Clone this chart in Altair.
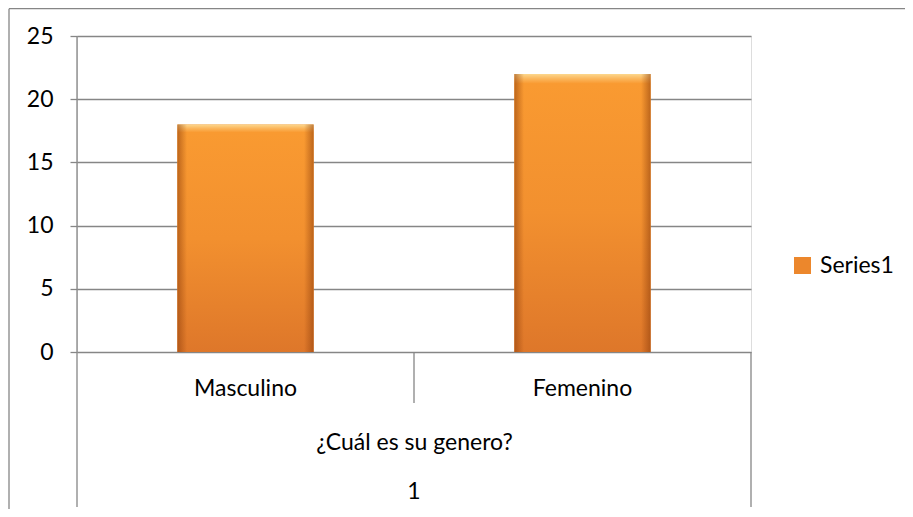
import altair as alt
import pandas as pd

categories = ["Masculino", "Femenino"]
values = [18, 22]
series_name = "Series1"
group_label = "¿Cuál es su genero?"
outer_label = "1"
y_ticks = [0, 5, 10, 15, 20, 25]

df = pd.DataFrame({"genero": categories, "valor": values, "serie": [series_name] * len(categories)})
one = pd.DataFrame({"k": [0]})

FONT = "Lato"
GRAY = "#868686"
W, H = 674, 316
PAD_L, PAD_T = 69, 28
TOTAL_W, TOTAL_H = 897, 501
FS = 23

x_scale = alt.Scale(domain=categories, paddingInner=0, paddingOuter=0)
y_scale = alt.Scale(domain=[0, 25], nice=False)

x_axis = alt.Axis(
    title=group_label, labelAngle=0, ticks=False, domain=False, grid=False,
    labelFont=FONT, labelFontSize=FS, labelColor="#000000", labelPadding=25,
    titleFont=FONT, titleFontSize=FS, titleFontWeight="normal", titleColor="#000000",
    titlePadding=31,
)
y_axis = alt.Axis(
    title=None, values=y_ticks, domain=False, ticks=True, tickSize=7, tickColor=GRAY,
    tickWidth=1.3, grid=True, gridColor=GRAY, gridWidth=1.3, gridOpacity=1,
    labelFont=FONT, labelFontSize=FS, labelColor="#000000", labelPadding=17,
)

bar_w = alt.RelativeBandSize(0.404)

legend_bars = alt.Chart(df).mark_bar(width=bar_w).encode(
    x=alt.X("genero:N", scale=x_scale, sort=categories, axis=x_axis),
    y=alt.Y("valor:Q", scale=y_scale, axis=y_axis),
    color=alt.Color(
        "serie:N", scale=alt.Scale(range=["#EC872C"]),
        legend=alt.Legend(
            title=None, orient="none", legendX=714, legendY=218,
            symbolType="square", symbolSize=289, symbolStrokeWidth=0,
            labelFont=FONT, labelFontSize=FS, labelColor="#000000", labelOffset=6,
        ),
    ),
)

vert = alt.LinearGradient(
    gradient="linear", x1=0, x2=0, y1=0, y2=1,
    stops=[
        alt.GradientStop(color="#FCD88E", offset=0),
        alt.GradientStop(color="#FBB55A", offset=0.018),
        alt.GradientStop(color="#F99A31", offset=0.035),
        alt.GradientStop(color="#F2902F", offset=0.5),
        alt.GradientStop(color="#DE772A", offset=1),
    ],
)
grad_bars = alt.Chart(df).mark_bar(width=bar_w, fill=vert).encode(
    x=alt.X("genero:N", scale=x_scale, sort=categories),
    y=alt.Y("valor:Q", scale=y_scale),
)

horiz = alt.LinearGradient(
    gradient="linear", x1=0, x2=1, y1=0, y2=0,
    stops=[
        alt.GradientStop(color="rgba(140,60,10,0.55)", offset=0),
        alt.GradientStop(color="rgba(140,60,10,0.0)", offset=0.07),
        alt.GradientStop(color="rgba(140,60,10,0.0)", offset=0.93),
        alt.GradientStop(color="rgba(140,60,10,0.55)", offset=1),
    ],
)
edge_bars = alt.Chart(df).mark_bar(width=bar_w, fill=horiz).encode(
    x=alt.X("genero:N", scale=x_scale, sort=categories),
    y=alt.Y("valor:Q", scale=y_scale),
)

rule_style = dict(color=GRAY, strokeWidth=1.3)

left_rule = alt.Chart(one).mark_rule(**rule_style).encode(
    x=alt.XDatum(categories[0], type="nominal", bandPosition=0),
    y=alt.value(0), y2=alt.value(H + 155),
)
mid_rule = alt.Chart(one).mark_rule(**rule_style).encode(
    x=alt.XDatum(categories[1], type="nominal", bandPosition=0),
    y=alt.value(H), y2=alt.value(H + 51),
)
right_rule = alt.Chart(one).mark_rule(**rule_style).encode(
    x=alt.XDatum(categories[1], type="nominal", bandPosition=1),
    y=alt.value(H), y2=alt.value(H + 155),
)
outer_top = alt.Chart(one).mark_rule(**rule_style).encode(
    x=alt.value(-PAD_L + 1), x2=alt.value(TOTAL_W - PAD_L), y=alt.value(-PAD_T + 0.7),
)
outer_left = alt.Chart(one).mark_rule(**rule_style).encode(
    x=alt.value(-PAD_L + 1), y=alt.value(-PAD_T + 0.7), y2=alt.value(TOTAL_H - PAD_T),
)
outer_text = alt.Chart(one).mark_text(font=FONT, fontSize=FS, color="#000000", baseline="middle").encode(
    x=alt.XDatum(categories[1], type="nominal", bandPosition=0),
    y=alt.value(H + 140),
    text=alt.value(outer_label),
)

chart = alt.layer(
    legend_bars, grad_bars, edge_bars,
    left_rule, mid_rule, right_rule, outer_top, outer_left, outer_text,
).properties(
    width=W, height=H,
    autosize=alt.AutoSizeParams(type="none"),
    padding={"left": PAD_L, "top": PAD_T, "right": TOTAL_W - PAD_L - W, "bottom": TOTAL_H - PAD_T - H},
).configure_view(stroke=None).configure(background="white")

chart.save("out.html", embed_options={"renderer": "svg", "actions": False})
